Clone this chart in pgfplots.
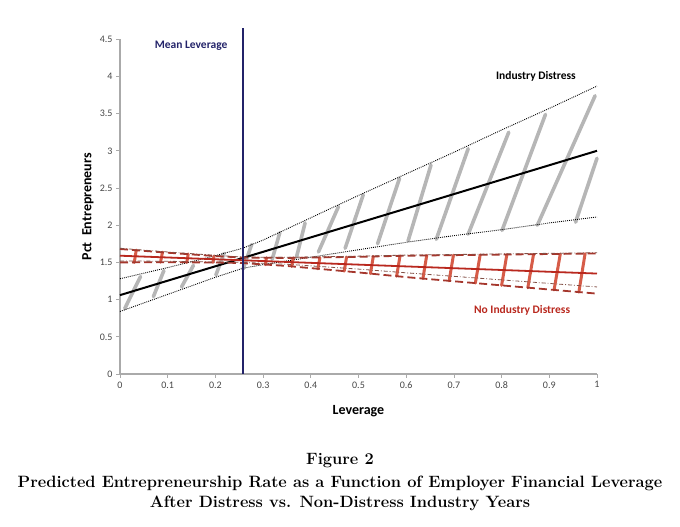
\documentclass[border=0pt]{standalone}
\usepackage{fontspec}
\usepackage{pgfplots}
\usepackage{pgfplotstable}
\pgfplotsset{compat=1.18}
\newfontfamily\calibri{Carlito}
\definecolor{strokegray}{RGB}{182,182,182}
\definecolor{redmean}{RGB}{185,40,30}
\definecolor{redstroke}{RGB}{214,92,72}
\definecolor{reddash}{RGB}{165,55,45}
\definecolor{reddot}{RGB}{130,80,70}
\definecolor{navy}{RGB}{35,35,105}
\definecolor{axisgray}{RGB}{170,170,170}
\definecolor{tickgray}{RGB}{70,70,70}

\pgfplotstableread{
x y
0.010 0.88
0.043 1.31
nan nan
0.070 1.04
0.092 1.39
nan nan
0.129 1.17
0.154 1.46
nan nan
0.201 1.33
0.218 1.62
nan nan
0.258 1.41
0.276 1.74
nan nan
0.319 1.54
0.335 1.90
nan nan
0.370 1.57
0.388 2.03
nan nan
0.416 1.64
0.458 2.25
nan nan
0.472 1.69
0.510 2.41
nan nan
0.540 1.75
0.586 2.63
nan nan
0.604 1.79
0.652 2.81
nan nan
0.663 1.81
0.730 3.03
nan nan
0.730 1.88
0.815 3.25
nan nan
0.801 1.93
0.892 3.49
nan nan
0.875 2.00
0.996 3.74
nan nan
0.955 2.04
1.000 2.90
}\graystrokes

\pgfplotstableread{
x y
0.000 1.28
0.100 1.43
0.200 1.59
0.257 1.69
0.300 1.80
0.400 2.10
0.500 2.40
0.600 2.69
0.700 2.98
0.800 3.28
0.900 3.57
1.000 3.87
}\grayupper

\pgfplotstableread{
x y
0.000 0.84
0.100 1.07
0.200 1.30
0.257 1.42
0.300 1.47
0.400 1.57
0.500 1.67
0.600 1.77
0.700 1.86
0.800 1.94
0.900 2.03
1.000 2.11
}\graylower

\pgfplotstableread{
x y
0.000 1.06
1.000 3.00
}\graymean

\pgfplotstableread{
x y
0.030 1.500
0.034 1.665
nan nan
0.085 1.502
0.089 1.637
nan nan
0.140 1.500
0.143 1.612
nan nan
0.195 1.499
0.197 1.587
nan nan
0.305 1.471
0.307 1.562
nan nan
0.360 1.446
0.363 1.561
nan nan
0.415 1.414
0.419 1.566
nan nan
0.470 1.382
0.475 1.572
nan nan
0.525 1.349
0.531 1.579
nan nan
0.580 1.315
0.587 1.587
nan nan
0.635 1.283
0.643 1.593
nan nan
0.690 1.252
0.699 1.597
nan nan
0.745 1.222
0.755 1.601
nan nan
0.800 1.191
0.811 1.605
nan nan
0.855 1.160
0.867 1.609
nan nan
0.910 1.130
0.923 1.613
nan nan
0.962 1.101
0.975 1.617
}\redstrokes

\pgfplotstableread{
x y
0.000 1.680
0.100 1.630
0.200 1.585
0.257 1.565
0.350 1.560
0.500 1.575
0.600 1.590
0.800 1.605
1.000 1.620
}\redupper

\pgfplotstableread{
x y
0.000 1.500
0.100 1.502
0.200 1.499
0.257 1.491
0.350 1.452
0.500 1.365
0.600 1.302
0.800 1.191
1.000 1.080
}\redlower

\pgfplotstableread{
x y
0.000 1.690
0.100 1.640
0.200 1.595
0.257 1.572
0.350 1.568
0.500 1.584
0.600 1.598
0.800 1.614
1.000 1.630
}\redupperdd

\pgfplotstableread{
x y
0.000 1.520
0.100 1.515
0.200 1.505
0.257 1.500
0.350 1.475
0.500 1.410
0.600 1.360
0.800 1.265
1.000 1.170
}\redlowerdd

\pgfplotstableread{
x y
0.000 1.590
1.000 1.350
}\redmeantab

\pgfplotstableread{
x y
0.257 0
0.257 4.65
}\meanlev

\begin{document}
\begin{tikzpicture}
\useasboundingbox (0,0) rectangle (680pt,527pt);
\begin{axis}[
  at={(120pt,153pt)}, anchor=south west,
  scale only axis, width=477pt, height=334.8pt,
  xmin=0, xmax=1, ymin=0, ymax=4.5,
  axis x line=bottom, axis y line=left,
  axis line style={-, axisgray, line width=1.2pt},
  xtick={0,0.1,0.2,0.3,0.4,0.5,0.6,0.7,0.8,0.9,1},
  ytick={0,0.5,1,1.5,2,2.5,3,3.5,4,4.5},
  xticklabels={0,0.1,0.2,0.3,0.4,0.5,0.6,0.7,0.8,0.9,1},
  yticklabels={0,0.5,1,1.5,2,2.5,3,3.5,4,4.5},
  tick align=outside, major tick length=4pt,
  tick style={axisgray, line width=0.8pt},
  tick label style={font=\calibri\fontsize{10}{12}\selectfont, text=tickgray},
  /pgf/number format/assume math mode=true,
  xlabel={Leverage},
  ylabel={Pct\ \ Entrepreneurs},
  xlabel style={font=\calibri\bfseries\fontsize{14}{16}\selectfont, at={(axis description cs:0.5,0)}, anchor=center, yshift=-37pt},
  ylabel style={font=\calibri\bfseries\fontsize{14}{16}\selectfont, at={(axis description cs:-0.067,0.5)}, anchor=center},
  clip=false,
  unbounded coords=jump,
]
\addplot[strokegray, line width=3.6pt, line cap=round] table[x=x,y=y] {\graystrokes};
\addplot[black, line width=0.9pt, dash pattern=on 0.9pt off 1.1pt] table[x=x,y=y] {\grayupper};
\addplot[black, line width=0.9pt, dash pattern=on 0.9pt off 1.1pt] table[x=x,y=y] {\graylower};
\addplot[black, line width=2pt] table[x=x,y=y] {\graymean};
\addplot[redstroke, line width=3pt, line cap=round] table[x=x,y=y] {\redstrokes};
\addplot[reddash, line width=1.8pt, dash pattern=on 8pt off 4pt] table[x=x,y=y] {\redupper};
\addplot[reddash, line width=1.8pt, dash pattern=on 8pt off 4pt] table[x=x,y=y] {\redlower};
\addplot[reddot, line width=0.8pt, dash pattern=on 4pt off 2pt on 0.8pt off 2pt] table[x=x,y=y] {\redupperdd};
\addplot[reddot, line width=0.8pt, dash pattern=on 4pt off 2pt on 0.8pt off 2pt] table[x=x,y=y] {\redlowerdd};
\addplot[redmean, line width=1.8pt] table[x=x,y=y] {\redmeantab};
\addplot[navy, line width=2.1pt] table[x=x,y=y] {\meanlev};
\node[font=\calibri\bfseries\fontsize{11.5}{13}\selectfont, text=navy] at (axis cs:0.149,4.41) {Mean Leverage};
\node[font=\calibri\bfseries\fontsize{11.5}{13}\selectfont, text=black] at (axis cs:0.872,4.0) {Industry Distress};
\node[font=\calibri\bfseries\fontsize{11.5}{13}\selectfont, text=redmean] at (axis cs:0.843,0.86) {No Industry Distress};
\end{axis}
\node[font=\bfseries\fontsize{16.4}{19}\selectfont] at (340pt,66pt) {Figure 2};
\node[font=\bfseries\fontsize{16.4}{19}\selectfont] at (340pt,44pt) {Predicted Entrepreneurship Rate as a Function of Employer Financial Leverage};
\node[font=\bfseries\fontsize{16.4}{19}\selectfont] at (340pt,24pt) {After Distress vs. Non-Distress Industry Years};
\end{tikzpicture}
\end{document}
